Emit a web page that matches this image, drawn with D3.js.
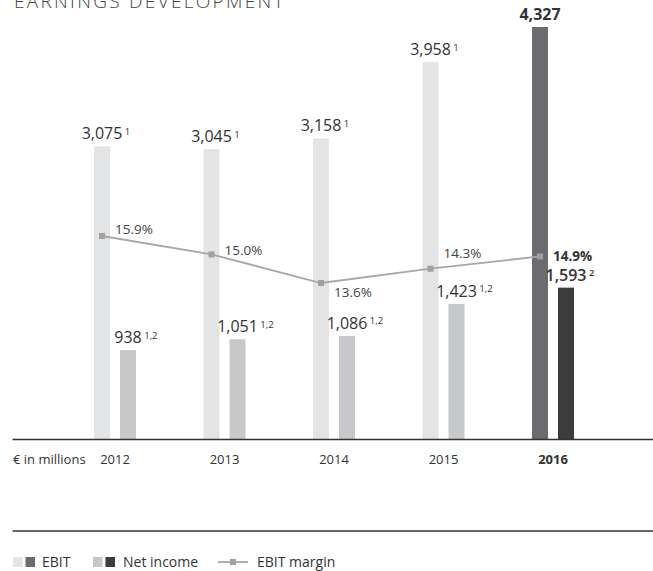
<!DOCTYPE html>
<html>
<head>
<meta charset="utf-8">
<script src="https://cdn.jsdelivr.net/npm/d3@7"></script>
<style>
  html, body { margin: 0; padding: 0; background: #fff; }
  svg { display: block; font-family: "Open Sans", "Noto Sans", sans-serif; }
</style>
</head>
<body>
<svg id="chart" width="653" height="571"></svg>
<script>
// Earnings development, € in millions
const years = ["2012", "2013", "2014", "2015", "2016"];
const ebit = [3075, 3045, 3158, 3958, 4327];
const netIncome = [938, 1051, 1086, 1423, 1593];
const ebitMargin = [15.9, 15.0, 13.6, 14.3, 14.9];
const ebitNotes = ["1", "1", "1", "1", ""];
const netIncomeNotes = ["1,2", "1,2", "1,2", "1,2", "2"];
const marginLabels = ["15.9%", "15.0%", "13.6%", "14.3%", "14.9%"];
const currentYear = "2016";

const W = 653, H = 571;
const baseY = 439.5;
const barW = 16, pairGap = 10;

const colors = {
  ebitPast: "#e3e4e6",
  ebitCurrent: "#6b6c70",
  netPast: "#c7c8ca",
  netCurrent: "#3c3c3c",
  line: "#a8a8a8",
  marker: "#a0a0a0",
  text: "#333333",
  rule: "#333333"
};

const svg = d3.select("#chart");

const x = d3.scaleBand().domain(years).range([60.25, 607.75]).paddingInner(0).paddingOuter(0);
const y = d3.scaleLinear().domain([0, 4327]).range([baseY, 27]);
const yM = d3.scaleLinear().domain([13.6, 15.9]).range([283, 236]);

const cx = yr => x(yr) + x.bandwidth() / 2;
const ebitX = yr => cx(yr) - pairGap / 2 - barW;
const netX = yr => cx(yr) + pairGap / 2;
const isCur = yr => yr === currentYear;

// title (partly above the top edge)
svg.append("text")
  .attr("x", 14).attr("y", 7.5)
  .attr("font-size", 19).attr("font-weight", 300)
  .attr("letter-spacing", 2.3)
  .attr("fill", "#444")
  .text("EARNINGS DEVELOPMENT");

const rows = years.map((yr, i) => ({
  yr, ebit: ebit[i], net: netIncome[i], m: ebitMargin[i],
  en: ebitNotes[i], nn: netIncomeNotes[i], ml: marginLabels[i], i
}));

// bars
svg.append("g").selectAll("rect").data(rows).join("rect")
  .attr("x", d => ebitX(d.yr)).attr("width", barW)
  .attr("y", d => y(d.ebit)).attr("height", d => baseY - y(d.ebit))
  .attr("fill", d => isCur(d.yr) ? colors.ebitCurrent : colors.ebitPast);

svg.append("g").selectAll("rect").data(rows).join("rect")
  .attr("x", d => netX(d.yr)).attr("width", barW)
  .attr("y", d => y(d.net)).attr("height", d => baseY - y(d.net))
  .attr("fill", d => isCur(d.yr) ? colors.netCurrent : colors.netPast);

// value label: number centered on the bar, footnote marks raised after it
function valueLabel(g, centerX, topY, value, note, weight) {
  const t = g.append("text")
    .attr("x", centerX).attr("y", topY - 7)
    .attr("text-anchor", "middle")
    .attr("font-size", 16)
    .attr("font-weight", weight)
    .attr("fill", colors.text)
    .text(d3.format(",")(value));
  if (note) {
    const w = t.node().getComputedTextLength();
    g.append("text")
      .attr("x", centerX + w / 2 + 2.5).attr("y", topY - 11.5)
      .attr("font-size", 9.5)
      .attr("font-weight", weight)
      .attr("fill", colors.text)
      .text(note);
  }
}

const labels = svg.append("g");
rows.forEach(d => {
  valueLabel(labels, ebitX(d.yr) + barW / 2, y(d.ebit), d.ebit, d.en, isCur(d.yr) ? 700 : 400);
  valueLabel(labels, netX(d.yr) + barW / 2, y(d.net), d.net, d.nn, isCur(d.yr) ? 600 : 400);
});

// EBIT margin line
const pts = rows.map(d => [cx(d.yr) - pairGap / 2 - barW / 2, yM(d.m)]);
svg.append("path")
  .attr("d", d3.line()(pts))
  .attr("fill", "none")
  .attr("stroke", colors.line)
  .attr("stroke-width", 1.8);

svg.append("g").selectAll("rect").data(pts).join("rect")
  .attr("x", p => p[0] - 3).attr("y", p => p[1] - 3)
  .attr("width", 6).attr("height", 6)
  .attr("fill", colors.marker);

// margin labels: above the line, below at a trough, beside at the last point
const lineYAt = px => {
  for (let k = 0; k < pts.length - 1; k++) {
    const [x0, y0] = pts[k], [x1, y1] = pts[k + 1];
    if (px >= x0 && px <= x1) return y0 + (px - x0) / (x1 - x0) * (y1 - y0);
  }
  return pts[pts.length - 1][1];
};
rows.forEach((d, i) => {
  const [px, py] = pts[i];
  const tx = px + 13;
  const last = i === rows.length - 1;
  const trough = i > 0 && !last && d.m < ebitMargin[i - 1] && d.m < ebitMargin[i + 1];
  let midY;
  if (last) midY = py;
  else if (trough) midY = py + 9;
  else midY = lineYAt(tx + 19) - 12;
  svg.append("text")
    .attr("x", tx).attr("y", midY)
    .attr("dy", "0.35em")
    .attr("font-size", 13.5)
    .attr("font-weight", last ? 700 : 400)
    .attr("fill", last ? colors.text : "#444")
    .text(d.ml);
});

// baseline and lower rule
svg.append("line").attr("x1", 12.5).attr("x2", W).attr("y1", baseY).attr("y2", baseY)
  .attr("stroke", colors.rule).attr("stroke-width", 1.5);
svg.append("line").attr("x1", 12.5).attr("x2", W).attr("y1", 531).attr("y2", 531)
  .attr("stroke", colors.rule).attr("stroke-width", 1.5);

// year axis
const axis = svg.append("g")
  .attr("transform", `translate(0,${baseY})`)
  .call(d3.axisBottom(x).tickSize(0).tickPadding(15));
axis.select(".domain").remove();
axis.selectAll("text")
  .attr("font-family", "Open Sans, Noto Sans, sans-serif")
  .attr("font-size", 13)
  .attr("fill", colors.text)
  .attr("font-weight", d => isCur(d) ? 700 : 400);

svg.append("text")
  .attr("x", 13).attr("y", baseY + 15).attr("dy", "0.71em")
  .attr("font-size", 13).attr("fill", colors.text)
  .text("€ in millions");

// legend
const lg = svg.append("g").attr("transform", "translate(0,562)");
const legendSwatch = (x0, c1, c2, label, tx) => {
  lg.append("rect").attr("x", x0).attr("y", -5).attr("width", 9.5).attr("height", 10).attr("fill", c1);
  lg.append("rect").attr("x", x0 + 12.5).attr("y", -5).attr("width", 9.5).attr("height", 10).attr("fill", c2);
  lg.append("text").attr("x", tx).attr("y", 0).attr("dy", "0.35em")
    .attr("font-size", 14).attr("fill", colors.text).text(label);
};
legendSwatch(13, colors.ebitPast, colors.ebitCurrent, "EBIT", 42);
legendSwatch(93, colors.netPast, colors.netCurrent, "Net income", 123);
lg.append("line").attr("x1", 218).attr("x2", 248).attr("y1", 0).attr("y2", 0)
  .attr("stroke", colors.line).attr("stroke-width", 1.8);
lg.append("rect").attr("x", 230).attr("y", -3).attr("width", 6).attr("height", 6).attr("fill", colors.marker);
lg.append("text").attr("x", 257).attr("y", 0).attr("dy", "0.35em")
  .attr("font-size", 14).attr("fill", colors.text).text("EBIT margin");
</script>
</body>
</html>
